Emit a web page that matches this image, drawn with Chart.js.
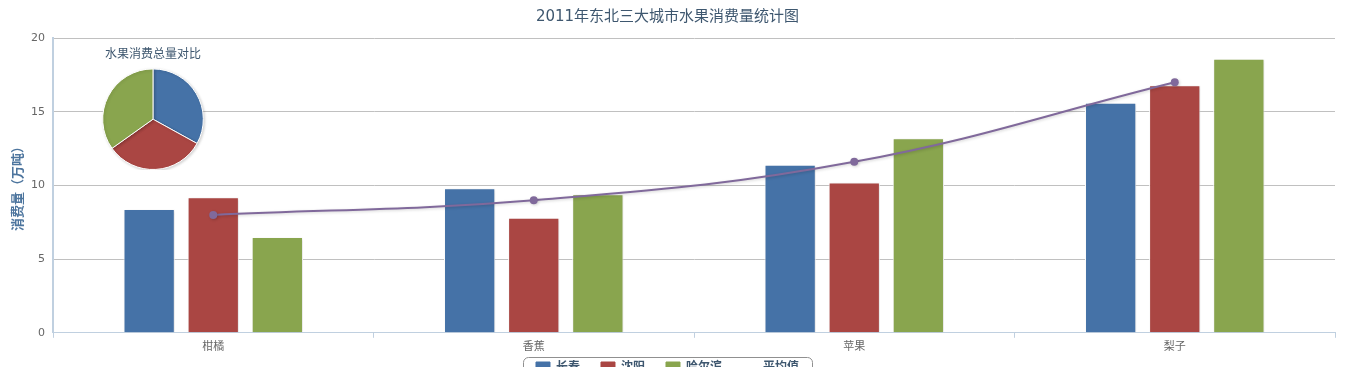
<!DOCTYPE html>
<html>
<head>
<meta charset="utf-8">
<script src="https://cdn.jsdelivr.net/npm/chart.js@4/dist/chart.umd.min.js"></script>
<style>
  html, body { margin: 0; padding: 0; background: #fff; overflow: hidden; }
  #wrap { position: relative; width: 1345px; height: 400px; }
  #pieBox { position: absolute; left: 98px; top: 44px; width: 110px; height: 126px; }
</style>
</head>
<body>
<div id="wrap">
  <canvas id="chart-main" width="1345" height="400"></canvas>
  <div id="pieBox"><canvas id="chart-pie" width="110" height="126"></canvas></div>
</div>
<script>
// ─── DATA ────────────────────────────────────────────────
var fruits = ['柑橘', '香蕉', '苹果', '梨子'];
var cities = ['长春', '沈阳', '哈尔滨'];
var changchun = [8.4, 9.8, 11.4, 15.6];
var shenyang = [9.2, 7.8, 10.2, 16.8];
var harbin = [6.5, 9.4, 13.2, 18.6];
var average = [8.0, 9.0, 11.6, 17.0];
var totals = [45.2, 44.0, 47.7];
var yTicks = [0, 5, 10, 15, 20];

var colors = ['#4572A7', '#AA4643', '#89A54E'];
var lineColor = '#80699B';
var fontFamily = "'DejaVu Sans', 'Noto Sans CJK SC', sans-serif";

// soft drop shadow under bars, line and slices
var shadowPlugin = {
  id: 'shadow',
  beforeDatasetDraw: function(chart) {
    var ctx = chart.ctx;
    ctx.save();
    ctx.shadowColor = 'rgba(0, 0, 0, 0.18)';
    ctx.shadowOffsetX = 1;
    ctx.shadowOffsetY = 1;
    ctx.shadowBlur = 3;
  },
  afterDatasetDraw: function(chart) {
    chart.ctx.restore();
  }
};

// legend sits tight under the category labels (wide item spacing, small top gap)
var legendLift = {
  id: 'legendLift',
  afterLayout: function(chart) {
    var l = chart.legend;
    if (!l) return;
    l.top -= 16;
    l.bottom -= 16;
  }
};

// rounded frame around the legend items
var legendFrame = {
  id: 'legendFrame',
  afterDraw: function(chart) {
    var boxes = chart.legend && chart.legend.legendHitBoxes;
    if (!boxes || !boxes.length) return;
    var left = Infinity, right = -Infinity, top = Infinity;
    boxes.forEach(function(b) {
      left = Math.min(left, b.left);
      right = Math.max(right, b.left + b.width);
      top = Math.min(top, b.top);
    });
    var ctx = chart.ctx;
    ctx.save();
    ctx.strokeStyle = '#909090';
    ctx.lineWidth = 1;
    ctx.beginPath();
    ctx.roundRect(Math.round(left) - 12.5, Math.round(top) - 4.5, right - left + 26, 40, 5);
    ctx.stroke();
    ctx.restore();
  }
};

var barDataset = function(label, data, color) {
  return {
    type: 'bar',
    label: label,
    data: data,
    backgroundColor: color,
    borderColor: '#ffffff',
    borderWidth: 1,
    order: 1
  };
};

new Chart(document.getElementById('chart-main'), {
  type: 'bar',
  data: {
    labels: fruits,
    datasets: [
      barDataset(cities[0], changchun, colors[0]),
      barDataset(cities[1], shenyang, colors[1]),
      barDataset(cities[2], harbin, colors[2]),
      {
        type: 'line',
        label: '平均值',
        data: average,
        borderColor: lineColor,
        backgroundColor: lineColor,
        borderWidth: 2,
        tension: 0.4,
        pointRadius: 4,
        pointBorderWidth: 0,
        pointBackgroundColor: lineColor,
        order: 0
      }
    ]
  },
  options: {
    responsive: false,
    animation: false,
    layout: { padding: { left: 0, right: 10, top: 0, bottom: 0 } },
    datasets: {
      bar: { categoryPercentage: 0.6, barPercentage: 0.8 }
    },
    plugins: {
      title: {
        display: true,
        text: '2011年东北三大城市水果消费量统计图',
        color: '#3E576F',
        font: { family: fontFamily, size: 15, weight: 'normal' },
        padding: { top: 8, bottom: 12 }
      },
      legend: {
        position: 'bottom',
        labels: {
          color: '#3E576F',
          font: { family: fontFamily, size: 12, weight: 'bold' },
          boxWidth: 14,
          boxHeight: 12,
          padding: 21,
          sort: function(a, b) { return a.datasetIndex - b.datasetIndex; },
          generateLabels: function(chart) {
            var items = Chart.defaults.plugins.legend.labels.generateLabels(chart);
            items.forEach(function(it) {
              // the average line has a thin line symbol, lower than the boxes
              if (it.datasetIndex === 3) {
                it.fillStyle = 'rgba(0,0,0,0)';
                it.lineWidth = 0;
              } else {
                it.strokeStyle = it.fillStyle;
              }
            });
            return items;
          }
        }
      },
      tooltip: { enabled: false }
    },
    scales: {
      x: {
        grid: { offset: true, drawOnChartArea: false, drawTicks: true, tickLength: 5, color: '#C0D0E0' },
        border: { color: '#C0D0E0', width: 1 },
        ticks: { color: '#666666', padding: 3, font: { family: fontFamily, size: 11 } }
      },
      y: {
        min: 0,
        max: 20,
        afterBuildTicks: function(scale) {
          scale.ticks = yTicks.map(function(v) { return { value: v }; });
        },
        grid: { color: '#C0C0C0', drawTicks: false },
        border: { color: '#C0D0E0', width: 2 },
        ticks: { color: '#666666', padding: 8, font: { family: fontFamily, size: 11 } },
        title: {
          display: true,
          text: '消费量（万吨）',
          color: '#4D759E',
          font: { family: fontFamily, size: 13, weight: 'bold' },
          padding: { top: 11, bottom: 0 }
        },
        afterFit: function(scale) { scale.width = 53; }
      }
    }
  },
  plugins: [shadowPlugin, legendLift, legendFrame]
});

// ─── PIE: total consumption per city ─────────────────────
new Chart(document.getElementById('chart-pie'), {
  type: 'pie',
  data: {
    labels: cities,
    datasets: [{
      data: totals,
      backgroundColor: colors,
      borderColor: '#ffffff',
      borderWidth: 1
    }]
  },
  options: {
    responsive: false,
    animation: false,
    layout: { padding: 0 },
    plugins: {
      title: {
        display: true,
        text: '水果消费总量对比',
        color: '#3E576F',
        font: { family: fontFamily, size: 12, weight: 'normal' },
        padding: { top: 4, bottom: 6 }
      },
      legend: { display: false },
      tooltip: { enabled: false }
    }
  },
  plugins: [shadowPlugin]
});
</script>
</body>
</html>
